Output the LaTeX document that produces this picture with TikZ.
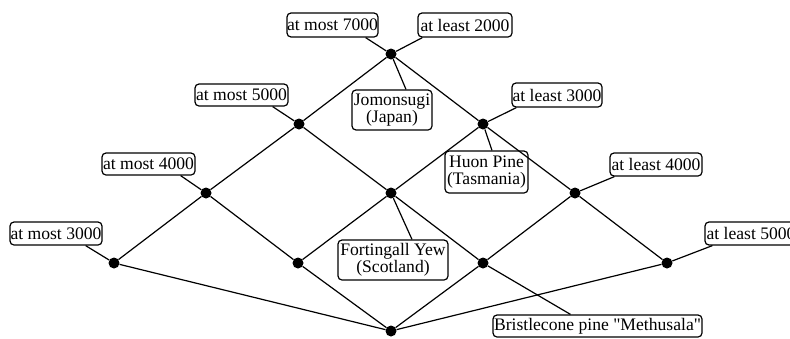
\documentclass[tikz,border=0pt]{standalone}
\usepackage{fontspec}
\setmainfont{Liberation Serif}[Ligatures=TeXOff]
\begin{document}
\begin{tikzpicture}[x=1pt,y=-1pt,
  edge/.style={line width=1.2pt},
  dot/.style={circle,fill=black,inner sep=0pt,minimum size=11pt},
  tag/.style={draw,line width=1.2pt,rounded corners=4pt,inner sep=0pt,
    font=\fontsize{17.6}{17}\selectfont,align=center},
  boxsize/.style 2 args={minimum width=#1pt,minimum height=#2pt},
]
\useasboundingbox (0,0) rectangle (790,338);

% lattice points
\node[dot] (t)   at (391,54)  {};
\node[dot] (r2a) at (299,124) {};
\node[dot] (r2b) at (483,124) {};
\node[dot] (r3a) at (206,193) {};
\node[dot] (r3b) at (391,193) {};
\node[dot] (r3c) at (575,193) {};
\node[dot] (r4a) at (114,263) {};
\node[dot] (r4b) at (298,263) {};
\node[dot] (r4c) at (483,263) {};
\node[dot] (r4d) at (667,263) {};
\node[dot] (bot) at (391,331) {};

% labels
\node[tag,boxsize={91}{24}] (m7000) at (332.5,25) {at most 7000};
\node[tag,boxsize={94}{24}] (l2000) at (465,25) {at least 2000};
\node[tag,boxsize={80}{40}] (jomon) at (392,110) {Jomonsugi\\(Japan)};
\node[tag,boxsize={93}{22}] (m5000) at (241.5,95) {at most 5000};
\node[tag,boxsize={90}{24}] (l3000) at (557,95) {at least 3000};
\node[tag,boxsize={83}{42}] (huon) at (486.5,172) {Huon Pine\\(Tasmania)};
\node[tag,boxsize={93}{22}] (m4000) at (148.5,164) {at most 4000};
\node[tag,boxsize={92}{23}] (l4000) at (656,164.5) {at least 4000};
\node[tag,boxsize={110}{40}] (fort) at (393,260) {Fortingall Yew\\(Scotland)};
\node[tag,boxsize={92}{23}] (m3000) at (56,233.5) {at most 3000};
\node[tag,boxsize={92}{23}] (l5000) at (751,233.5) {at least 5000};
\node[tag,boxsize={209}{22}] (bristle) at (597.5,326)
  {Bristlecone pine "Methusala"};

% lattice edges
\draw[edge] (r4a) -- (r3a) -- (r2a) -- (t) -- (r2b) -- (r3c) -- (r4d);
\draw[edge] (r3a) -- (r4b);
\draw[edge] (r2a) -- (r3b) -- (r4c);
\draw[edge] (r2b) -- (r3b) -- (r4b);
\draw[edge] (r3c) -- (r4c);
\draw[edge] (bot) -- (r4a);
\draw[edge] (bot) -- (r4b);
\draw[edge] (bot) -- (r4c);
\draw[edge] (bot) -- (r4d);

% label connectors
\draw[edge] (t) -- ([xshift=-13pt]m7000.south east);
\draw[edge] (t) -- ([xshift=5pt]l2000.south west);
\draw[edge] (t) -- ([xshift=14pt]jomon.north);
\draw[edge] (r2a) -- ([xshift=-16pt]m5000.south east);
\draw[edge] (r2b) -- ([xshift=5pt]l3000.south west);
\draw[edge] (r2b) -- ([xshift=5.5pt]huon.north);
\draw[edge] (r3a) -- ([xshift=-15pt]m4000.south east);
\draw[edge] (r3c) -- ([xshift=5pt]l4000.south west);
\draw[edge] (r3b) -- ([xshift=19pt]fort.north);
\draw[edge] (r4a) -- ([xshift=-17pt]m3000.south east);
\draw[edge] (r4d) -- ([xshift=8pt]l5000.south west);
\draw[edge] (r4c) -- ([xshift=-27pt]bristle.north);
\end{tikzpicture}
\end{document}
